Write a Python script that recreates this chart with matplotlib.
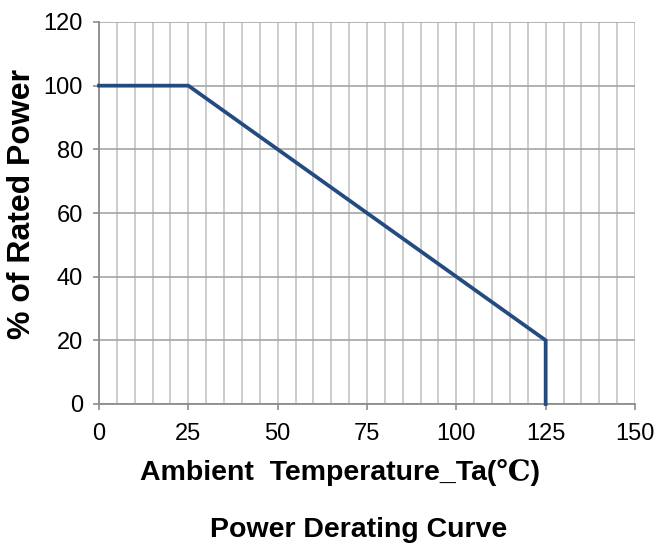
import matplotlib
matplotlib.use("Agg")
import matplotlib.pyplot as plt
from matplotlib.ticker import MultipleLocator

# Data
temperature = [0, 25, 125, 125]
rated_power = [100, 100, 20, 0]
x_ticks = [0, 25, 50, 75, 100, 125, 150]
y_ticks = [0, 20, 40, 60, 80, 100, 120]
x_label = "Ambient  Temperature_Ta(\u2103)"
y_label = "% of Rated Power"
title = "Power Derating Curve"

plt.rcParams['font.family'] = ['Liberation Sans', 'DejaVu Sans']

W, H = 659, 548
fig = plt.figure(figsize=(W / 100, H / 100), dpi=100)
ax = fig.add_axes([99 / W, 1 - 404 / H, (635 - 99) / W, (404 - 22) / H])

ax.set_xlim(0, 150)
ax.set_ylim(0, 120)
ax.set_xticks(x_ticks)
ax.set_yticks(y_ticks)
ax.xaxis.set_minor_locator(MultipleLocator(5))

ax.grid(axis='x', which='both', color='#c4c4c4', linewidth=1.2)
ax.grid(axis='y', which='major', color='#a6a6a6', linewidth=1.2)
ax.set_axisbelow(True)

for s in ['top', 'right']:
    ax.spines[s].set_visible(False)
for s in ['left', 'bottom']:
    ax.spines[s].set_color('#8c8c8c')
    ax.spines[s].set_linewidth(1.3)

ax.tick_params(axis='both', which='major', direction='out', length=4.5, width=1.2,
               color='#8c8c8c', labelsize=17, labelcolor='black')
ax.tick_params(axis='x', which='major', pad=9)
ax.tick_params(axis='y', which='major', pad=7)
ax.tick_params(axis='x', which='minor', length=0)

ax.plot(temperature, rated_power, color='#234b80', linewidth=2.7,
        solid_joinstyle='miter', clip_on=False, zorder=5)

fig.text(340 / W, 1 - 473 / H, x_label, ha='center', va='center',
         fontsize=20.5, fontweight='bold',
         family=['Liberation Sans', 'DejaVu Serif'])
fig.text(359 / W, 1 - 530 / H, title, ha='center', va='center',
         fontsize=20.5, fontweight='bold')
fig.text(22 / W, 1 - 204 / H, y_label, ha='center', va='center',
         rotation=90, fontsize=23, fontweight='bold')

fig.savefig("out.png", dpi=100)
